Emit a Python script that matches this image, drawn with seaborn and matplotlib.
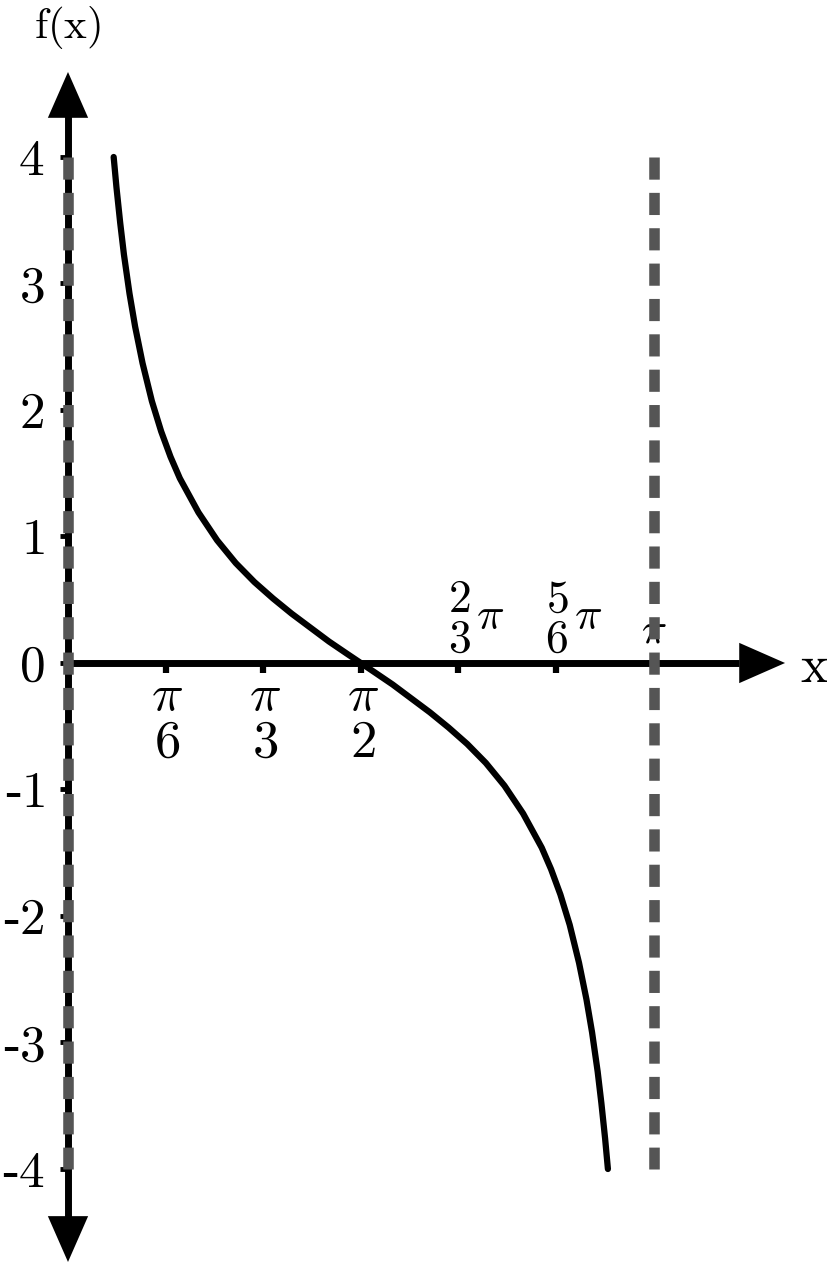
import matplotlib
matplotlib.use("Agg")
import matplotlib.pyplot as plt
import numpy as np
import seaborn as sns

# curve points (x in radians, f(x))
curve_x = [0.245, 0.26, 0.28, 0.30, 0.33, 0.36, 0.40, 0.45, 0.50, 0.55, 0.60,
           0.70, 0.80, 0.90, 1.00, 1.10, 1.20, 1.30, 1.40, 1.50, 1.5708,
           1.6416, 1.7416, 1.8416, 1.9416, 2.0416, 2.1416, 2.2416, 2.3416,
           2.4416, 2.5416, 2.5916, 2.6416, 2.6916, 2.7416, 2.7816, 2.8116,
           2.8416, 2.8616, 2.8816, 2.8966]
curve_y = [4.00, 3.76, 3.48, 3.23, 2.92, 2.66, 2.37, 2.07, 1.83, 1.63, 1.46,
           1.19, 0.97, 0.79, 0.64, 0.51, 0.39, 0.28, 0.17, 0.07, 0.00,
           -0.07, -0.17, -0.28, -0.39, -0.51, -0.64, -0.79, -0.97,
           -1.19, -1.46, -1.63, -1.83, -2.07, -2.37, -2.66, -2.92,
           -3.23, -3.48, -3.76, -4.00]

asymptotes = [0.0, np.pi]
asym_range = [4, -4]

y_ticks = [-4, -3, -2, -1, 0, 1, 2, 3, 4]
y_labels = ["-$4$", "-$3$", "-$2$", "-$1$", "$0$", "$1$", "$2$", "$3$", "$4$"]

x_ticks = [np.pi / 6, np.pi / 3, np.pi / 2, 2 * np.pi / 3, 5 * np.pi / 6, np.pi]
below_num = ["$\\pi$", "$\\pi$", "$\\pi$"]
below_den = ["$6$", "$3$", "$2$"]
above_num = ["$2$", "$5$"]
above_den = ["$3$", "$6$"]

sns.set_theme(style="white")
plt.rcParams["font.family"] = ["Liberation Serif", "DejaVu Serif"]
plt.rcParams["mathtext.fontset"] = "cm"
plt.rcParams["text.color"] = "black"
plt.rcParams["ytick.color"] = "black"
plt.rcParams["xtick.color"] = "black"

fig = plt.figure(figsize=(8.27, 12.64), dpi=100)
ax = fig.add_axes([0, 0, 1, 1])
ax.set_xlim(-0.3648, 4.072)
ax.set_ylim(-4.751, 5.241)

for s in ["top", "right", "left", "bottom"]:
    ax.spines[s].set_visible(False)
ax.spines["left"].set_position(("data", 0))
ax.spines["bottom"].set_position(("data", 0))

# axis lines with arrow heads
ax.plot([0, 0], [-4.45, 4.35], color="black", lw=5, zorder=2, solid_capstyle="butt")
ax.plot([0, 3.6], [0, 0], color="black", lw=5, zorder=2, solid_capstyle="butt")
head = "-|>,head_length=33,head_width=14.5"
for tip, base in [((0, 4.672), (0, 0)), ((0, -4.735), (0, 0)), ((3.847, 0), (0, 0))]:
    ax.annotate("", xy=tip, xytext=base,
                arrowprops=dict(arrowstyle=head, color="black", lw=0,
                                mutation_scale=1, shrinkA=0, shrinkB=0),
                zorder=2)

ax.set_yticks(y_ticks, y_labels, fontsize=37)
ax.set_xticks(x_ticks[:-1], [""] * 5)
ax.tick_params(axis="y", direction="out", length=6, width=3.5, colors="black",
               pad=11, left=True)
ax.tick_params(axis="x", direction="out", length=7, width=4.5, colors="black",
               bottom=True)

# asymptotes
for xa in asymptotes:
    ax.plot([xa, xa], asym_range, color="#555555", lw=7.6,
            ls=(0, (2.1, 1.25)), dash_capstyle="butt", zorder=3)

sns.lineplot(x=curve_x, y=curve_y, sort=False, estimator=None, color="black",
             lw=4.5, ax=ax, zorder=4, solid_capstyle="round")

# x tick labels
for xt, num, den in zip(x_ticks[:3], below_num, below_den):
    ax.text(xt + 0.01, -0.27, num, fontsize=38, ha="center", va="center")
    ax.text(xt + 0.01, -0.64, den, fontsize=38, ha="center", va="center")
for xt, num, den in zip(x_ticks[3:5], above_num, above_den):
    ax.text(xt + 0.005, 0.49, num, fontsize=33, ha="center", va="center")
    ax.text(xt + 0.005, 0.18, den, fontsize=33, ha="center", va="center")
    ax.text(xt + 0.17, 0.36, "$\\pi$", fontsize=33, ha="center", va="center")
ax.text(x_ticks[5], 0.24, "$\\pi$", fontsize=30, ha="center", va="center", zorder=2)

ax.text(4.007, -0.05, "$\\mathrm{x}$", fontsize=38, ha="center", va="center")
ax.text(0.0, 5.02, "$\\mathrm{f(x)}$", fontsize=31, ha="center", va="center")

fig.savefig("out.png", dpi=100)
